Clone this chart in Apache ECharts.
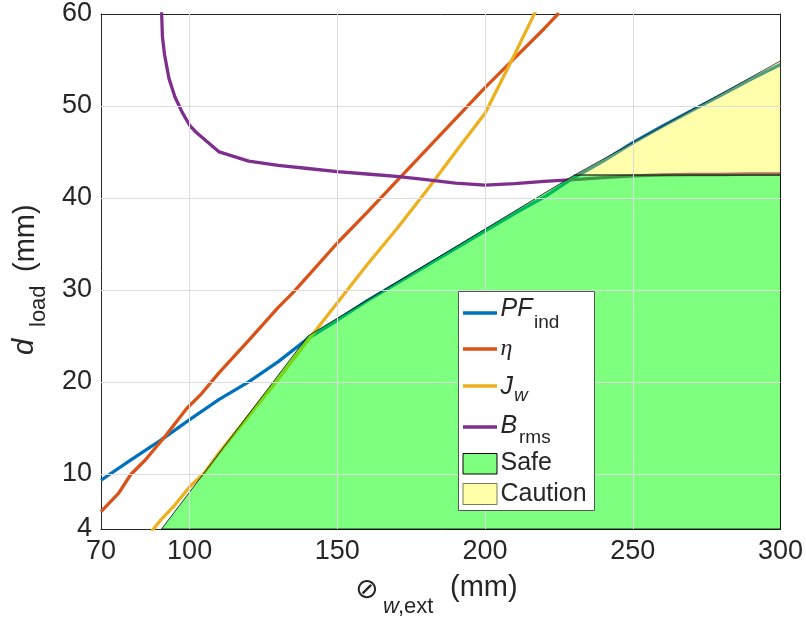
<!DOCTYPE html>
<html>
<head>
<meta charset="utf-8">
<script src="https://cdn.jsdelivr.net/npm/echarts@6/dist/echarts.min.js"></script>
<style>
  html, body { margin: 0; padding: 0; background: #fff; }
  #main { width: 806px; height: 626px; }
</style>
</head>
<body>
<div id="main"></div>
<script>
// ticks
var xTicks = [70, 100, 150, 200, 250, 300];
var xGrid = [100, 150, 200, 250];
var yTicks = [4, 10, 20, 30, 40, 50, 60];
var yGrid = [10, 20, 30, 40, 50];

// PF_ind
var pfX = [70, 80, 90, 100, 110, 120, 130, 140, 150, 160, 170, 180, 190, 200, 210, 220, 230, 240, 250, 260, 270, 280, 290, 300];
var pfY = [9.3, 11.5, 13.6, 15.9, 18.1, 20.0, 22.2, 24.7, 26.7, 28.8, 30.7, 32.6, 34.5, 36.4, 38.3, 40.1, 42.2, 44.0, 46.0, 47.8, 49.5, 51.2, 52.9, 54.5];
// eta
var etaX = [70, 76, 80, 85, 92, 99, 104, 110, 120, 130, 135, 140, 150, 160, 170, 180, 190, 200, 210, 220, 225];
var etaY = [5.9, 7.9, 9.9, 11.5, 14.2, 17.1, 18.7, 21.0, 24.5, 28.1, 29.7, 31.5, 35.1, 38.4, 41.8, 45.2, 48.6, 52.0, 55.2, 58.4, 60.1];
// J_w
var jwX = [87, 90, 95, 100, 105, 110, 120, 130, 140, 150, 160, 170, 180, 190, 200, 205, 210, 215, 218];
var jwY = [3.7, 4.9, 6.6, 8.6, 10.1, 12.3, 16.3, 20.3, 24.5, 28.6, 32.7, 36.6, 40.7, 45.0, 49.2, 52.4, 55.6, 58.9, 60.9];
// B_rms
var brX = [90.5, 90.8, 91.5, 93, 95, 97.5, 100, 102, 110, 120, 130, 140, 150, 160, 170, 180, 190, 200, 210, 220, 230, 240, 250, 260, 270, 280, 290, 300];
var brY = [60.3, 57.5, 55.6, 53.0, 51.0, 49.3, 47.9, 47.2, 45.0, 44.0, 43.55, 43.2, 42.85, 42.6, 42.35, 42.0, 41.6, 41.4, 41.55, 41.8, 42.0, 42.2, 42.4, 42.5, 42.55, 42.55, 42.6, 42.6];
// regions
var safeX = [90.5, 140.1, 230.3, 300, 300];
var safeY = [4, 25.0, 42.5, 42.5, 4];
var cautionX = [230.3, 300, 300];
var cautionY = [42.5, 54.9, 42.5];

var textColor = '#262626';
var font = 'Liberation Sans, Arial, sans-serif';

function pairs(xs, ys) {
  return xs.map(function (x, i) { return [x, ys[i]]; });
}

function lineSeries(name, xs, ys, color) {
  return {
    name: name,
    type: 'line',
    z: 2,
    data: pairs(xs, ys),
    showSymbol: false,
    symbol: 'none',
    lineStyle: { color: color, width: 3.3 },
    itemStyle: { color: color },
    silent: true
  };
}

function polySeries(name, xs, ys, fill, stroke) {
  return {
    name: name,
    type: 'custom',
    z: 3,
    data: pairs(xs, ys),
    encode: { x: 0, y: 1 },
    silent: true,
    renderItem: function (params, api) {
      if (params.dataIndex !== 0) return;
      var pts = xs.map(function (x, i) { return api.coord([x, ys[i]]); });
      return {
        type: 'polygon',
        shape: { points: pts },
        style: { fill: fill, stroke: stroke, lineWidth: 0.8 }
      };
    }
  };
}

var chart = echarts.init(document.getElementById('main'));

var legendItems = [
  { y: 313, color: '#0072BD' },
  { y: 349, color: '#D95319' },
  { y: 386, color: '#EDB120' },
  { y: 427, color: '#7E2F8E' }
];

var graphic = [
  { type: 'rect', z: 10, shape: { x: 458.5, y: 291.5, width: 136, height: 219 },
    style: { fill: '#fff', stroke: '#555', lineWidth: 1 } }
];
legendItems.forEach(function (it) {
  graphic.push({ type: 'line', z: 11, shape: { x1: 463, y1: it.y, x2: 497, y2: it.y },
    style: { stroke: it.color, lineWidth: 3.3 } });
});
graphic.push(
  { type: 'rect', z: 11, shape: { x: 463, y: 453.5, width: 34, height: 20.5 },
    style: { fill: 'rgba(0,255,0,0.5)', stroke: '#000', lineWidth: 1 } },
  { type: 'rect', z: 11, shape: { x: 463, y: 483.5, width: 34, height: 21 },
    style: { fill: '#FFFFAA', stroke: '#7a7a55', lineWidth: 1 } }
);

function txt(t, x, y, size, opt) {
  opt = opt || {};
  return {
    type: 'text', z: 12, x: x, y: y, rotation: opt.rotation || 0,
    style: {
      text: t, fill: textColor, fontSize: size,
      fontFamily: opt.family || font, fontStyle: opt.italic ? 'italic' : 'normal',
      align: 'left', verticalAlign: 'middle'
    }
  };
}

// legend labels
graphic.push(
  txt('PF', 500.5, 309, 25, { italic: true }),
  txt('ind', 534, 323, 19),
  txt('η', 500.5, 349, 24, { italic: true, family: 'Liberation Serif, Times New Roman, serif' }),
  txt('J', 500.5, 387, 25, { italic: true }),
  txt('w', 514, 396, 19, { italic: true }),
  txt('B', 500.5, 426, 25, { italic: true }),
  txt('rms', 519, 438, 19),
  txt('Safe', 500.5, 463, 25),
  txt('Caution', 500.5, 494.5, 25)
);

// x axis title
graphic.push(
  txt('⊘', 355, 591, 28, { family: 'DejaVu Sans' }),
  txt('w', 383, 607, 22, { italic: true }),
  txt(',ext', 398, 607, 22),
  txt('(mm)', 450, 588, 29)
);
// y axis title (rotated)
graphic.push(
  txt('d', 25, 355, 29, { italic: true, rotation: Math.PI / 2 }),
  txt('load', 39, 327, 22, { rotation: Math.PI / 2 }),
  txt('(mm)', 26, 272, 29, { rotation: Math.PI / 2 })
);

var axisLineStyle = { color: textColor, width: 1 };

var option = {
  animation: false,
  backgroundColor: '#fff',
  grid: { left: 101, right: 25, top: 14, bottom: 97, containLabel: false },
  xAxis: [
    {
      type: 'value', min: 70, max: 300, interval: 10, position: 'bottom',
      axisLine: { show: true, onZero: false, lineStyle: axisLineStyle },
      axisTick: { show: true, inside: true, length: 7, customValues: xGrid, lineStyle: { color: textColor } },
      axisLabel: { show: true, customValues: xTicks, margin: 9, fontSize: 27, fontFamily: font, color: textColor },
      splitLine: { show: false }
    },
    {
      type: 'value', min: 70, max: 300, interval: 10, position: 'top',
      axisLine: { show: true, onZero: false, lineStyle: axisLineStyle },
      axisTick: { show: true, inside: true, length: 7, customValues: xGrid, lineStyle: { color: textColor } },
      axisLabel: { show: false },
      splitLine: { show: false }
    }
  ],
  yAxis: [
    {
      type: 'value', min: 4, max: 60, interval: 2, position: 'left',
      axisLine: { show: true, onZero: false, lineStyle: axisLineStyle },
      axisTick: { show: true, inside: true, length: 7, customValues: yGrid, lineStyle: { color: textColor } },
      axisLabel: { show: true, customValues: yTicks, margin: 9, fontSize: 27, fontFamily: font, color: textColor },
      splitLine: { show: false }
    },
    {
      type: 'value', min: 4, max: 60, interval: 2, position: 'right',
      axisLine: { show: true, onZero: false, lineStyle: axisLineStyle },
      axisTick: { show: true, inside: true, length: 7, customValues: yGrid, lineStyle: { color: textColor } },
      axisLabel: { show: false },
      splitLine: { show: false }
    }
  ],
  series: [
    {
      name: 'grid', type: 'line', z: 1, data: [], silent: true,
      markLine: {
        silent: true, symbol: 'none', animation: false,
        label: { show: false },
        lineStyle: { color: '#dcdcdc', width: 1, type: 'solid' },
        emphasis: { disabled: true },
        data: xGrid.map(function (v) { return { xAxis: v }; })
          .concat(yGrid.map(function (v) { return { yAxis: v }; }))
      }
    },
    lineSeries('PF_ind', pfX, pfY, '#0072BD'),
    lineSeries('η', etaX, etaY, '#D95319'),
    lineSeries('J_w', jwX, jwY, '#EDB120'),
    lineSeries('B_rms', brX, brY, '#7E2F8E'),
    polySeries('Safe', safeX, safeY, 'rgba(0,255,0,0.5)', '#000'),
    polySeries('Caution', cautionX, cautionY, 'rgba(255,255,0,0.33)', '#222')
  ],
  graphic: graphic
};

chart.setOption(option);
</script>
</body>
</html>
